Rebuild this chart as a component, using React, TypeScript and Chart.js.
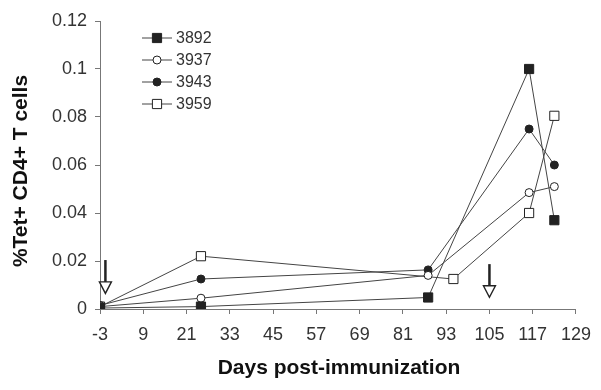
import React, { useEffect, useRef } from "react";
import { Chart, registerables } from "chart.js";

Chart.register(...registerables);

const seriesNames = ["3892", "3937", "3943", "3959"];
const days3892 = [-3, 25, 88, 116, 123];
const vals3892 = [0.0004, 0.001, 0.0048, 0.1, 0.037];
const days3937 = [-3, 25, 88, 116, 123];
const vals3937 = [0.001, 0.0045, 0.014, 0.0485, 0.051];
const days3943 = [-3, 25, 88, 116, 123];
const vals3943 = [0.0015, 0.0125, 0.0163, 0.075, 0.06];
const days3959 = [-3, 25, 95, 116, 123];
const vals3959 = [0.001, 0.022, 0.0125, 0.04, 0.0805];
const xTicks = [-3, 9, 21, 33, 45, 57, 69, 81, 93, 105, 117, 129];
const yTicks = [0, 0.02, 0.04, 0.06, 0.08, 0.1, 0.12];
const arrowDays = [-1.5, 105];
const arrowTops = [0.0204, 0.0187];
const arrowBottoms = [0.0065, 0.0049];
const xTitle = "Days post-immunization";
const yTitle = "%Tet+ CD4+ T cells";

const FONT = "'Liberation Sans', Arial, sans-serif";
const INK = "#222";

const styles = [
  { pointStyle: "rect", fill: INK, radius: 6.5 },
  { pointStyle: "circle", fill: "#fff", radius: 4 },
  { pointStyle: "circle", fill: INK, radius: 4 },
  { pointStyle: "rect", fill: "#fff", radius: 6.5 },
];

const toPts = (d: number[], v: number[]) => d.map((x, i) => ({ x, y: v[i] }));

const overlayPlugin = {
  id: "overlay",
  afterDatasetsDraw(chart: any) {
    const ctx = chart.ctx;
    const xs = chart.scales.x;
    const ys = chart.scales.y;
    const area = chart.chartArea;
    ctx.save();
    // arrows
    arrowDays.forEach((d, i) => {
      const x = xs.getPixelForValue(d);
      const y1 = ys.getPixelForValue(arrowTops[i]);
      const y2 = ys.getPixelForValue(arrowBottoms[i]);
      const headH = 11.5;
      ctx.strokeStyle = INK;
      ctx.lineWidth = 2.5;
      ctx.beginPath();
      ctx.moveTo(x, y1);
      ctx.lineTo(x, y2 - headH);
      ctx.stroke();
      ctx.lineWidth = 1.4;
      ctx.fillStyle = "#fff";
      ctx.beginPath();
      ctx.moveTo(x - 6, y2 - headH);
      ctx.lineTo(x + 6, y2 - headH);
      ctx.lineTo(x, y2);
      ctx.closePath();
      ctx.fill();
      ctx.stroke();
    });
    // legend
    const lx0 = 142, lx1 = 172, mx = 157, tx = 176;
    const rows = [38, 60, 82, 104];
    seriesNames.forEach((name, i) => {
      const y = rows[i];
      ctx.strokeStyle = "#444";
      ctx.lineWidth = 1;
      ctx.beginPath();
      ctx.moveTo(lx0, y);
      ctx.lineTo(lx1, y);
      ctx.stroke();
      const s = styles[i];
      ctx.fillStyle = s.fill;
      ctx.strokeStyle = INK;
      ctx.beginPath();
      if (s.pointStyle === "rect") {
        const h = s.radius * Math.SQRT1_2;
        ctx.rect(mx - h, y - h, 2 * h, 2 * h);
      } else {
        ctx.arc(mx, y, s.radius, 0, Math.PI * 2);
      }
      ctx.fill();
      ctx.stroke();
      ctx.fillStyle = "#333";
      ctx.font = `16px ${FONT}`;
      ctx.textBaseline = "middle";
      ctx.textAlign = "left";
      ctx.fillText(name, tx, y + 1);
    });
    // axis titles
    ctx.fillStyle = "#111";
    ctx.font = `bold 21px ${FONT}`;
    ctx.textAlign = "center";
    ctx.textBaseline = "middle";
    ctx.fillText(xTitle, (area.left + area.right) / 2 + 1, 368);
    ctx.save();
    ctx.translate(21, (area.top + area.bottom) / 2 + 6);
    ctx.rotate(-Math.PI / 2);
    ctx.fillText(yTitle, 0, 0);
    ctx.restore();
    ctx.restore();
  },
};

export default function App() {
  const ref = useRef<HTMLCanvasElement>(null);
  useEffect(() => {
    document.body.style.margin = "0";
    const data = [
      toPts(days3892, vals3892),
      toPts(days3937, vals3937),
      toPts(days3943, vals3943),
      toPts(days3959, vals3959),
    ];
    const chart = new Chart(ref.current!, {
      type: "line",
      data: {
        datasets: seriesNames.map((name, i) => ({
          label: name,
          data: data[i],
          borderColor: "#444",
          borderWidth: 1,
          pointStyle: styles[i].pointStyle as any,
          pointRadius: styles[i].radius,
          pointBackgroundColor: styles[i].fill,
          pointBorderColor: INK,
          pointBorderWidth: 1,
          tension: 0,
          fill: false,
        })),
      },
      options: {
        animation: false,
        responsive: false,
        maintainAspectRatio: false,
        layout: { padding: { top: 21, right: 23, left: 0, bottom: 0 } },
        plugins: { legend: { display: false }, tooltip: { enabled: false } },
        scales: {
          x: {
            type: "linear",
            min: -3,
            max: 129,
            afterBuildTicks: (s: any) => {
              s.ticks = xTicks.map((v) => ({ value: v }));
            },
            afterFit: (s: any) => {
              s.height = 81;
            },
            grid: {
              display: true,
              drawOnChartArea: false,
              drawTicks: true,
              tickLength: 5,
              color: "#777",
            },
            border: { display: true, color: "#777", width: 1 },
            ticks: {
              color: "#333",
              font: { family: FONT, size: 18 },
              padding: 10,
              maxRotation: 0,
              autoSkip: false,
            },
          },
          y: {
            type: "linear",
            min: 0,
            max: 0.12,
            afterBuildTicks: (s: any) => {
              s.ticks = yTicks.map((v) => ({ value: v }));
            },
            afterFit: (s: any) => {
              s.width = 100;
            },
            grid: {
              display: true,
              drawOnChartArea: false,
              drawTicks: true,
              tickLength: 5,
              color: "#777",
            },
            border: { display: true, color: "#777", width: 1 },
            ticks: {
              color: "#333",
              font: { family: FONT, size: 18 },
              padding: 8,
              callback: (v: any) => String(+Number(v).toFixed(2)),
            },
          },
        },
      },
      plugins: [overlayPlugin],
    });
    return () => chart.destroy();
  }, []);
  return (
    <div style={{ width: 601, height: 390 }}>
      <canvas ref={ref} width={601} height={390} style={{ display: "block" }} />
    </div>
  );
}
